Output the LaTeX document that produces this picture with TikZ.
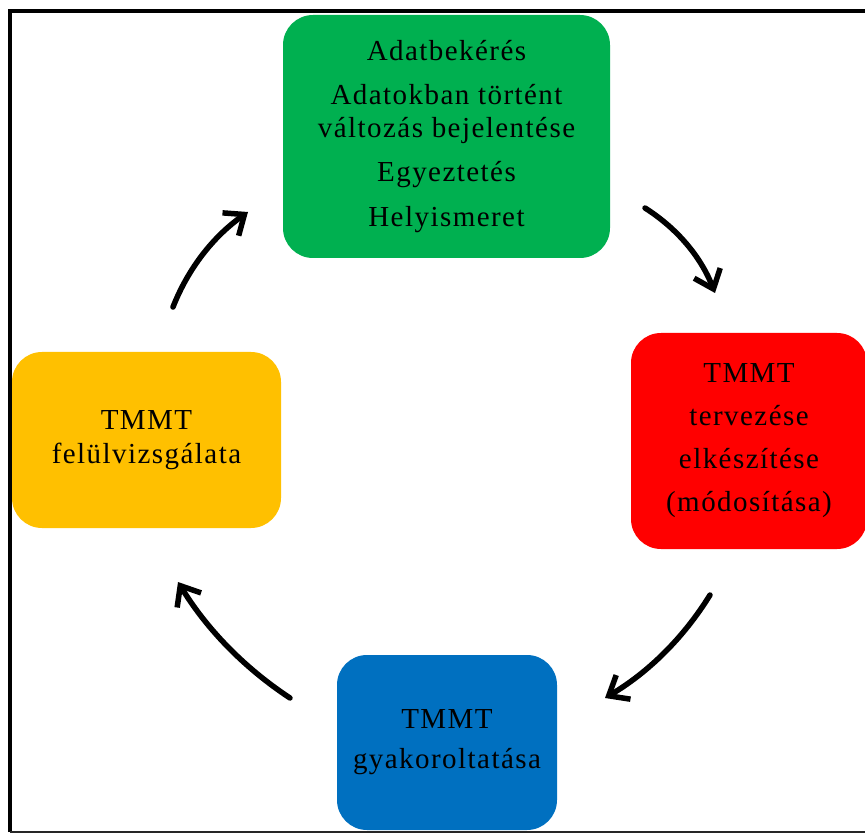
\documentclass[tikz,border=0pt]{standalone}
\usepackage{fontspec}
\setmainfont{Liberation Serif}[LetterSpace=5]
\usetikzlibrary{arrows.meta}
\definecolor{cgreen}{HTML}{00B050}
\definecolor{cred}{HTML}{FF0000}
\definecolor{cyellow}{HTML}{FFC000}
\definecolor{cblue}{HTML}{0070C0}
\tikzset{
  stagebox/.style={rounded corners=30pt, inner sep=0pt, align=center, text=black,
    font=\fontsize{29}{33}\selectfont},
  cyclearrow/.style={line width=5.5pt, line cap=round,
    -{Straight Barb[length=17pt,width=28pt,line width=5.5pt]}}
}
\begin{document}
\begin{tikzpicture}[x=1pt,y=-1pt]
\useasboundingbox (0,0) rectangle (865,834);
% frame
\draw[line width=4pt] (10,832) -- (10,11) -- (870,11);
\draw[line width=2pt, black!85] (10,832) -- (870,832);
% boxes
\node[stagebox, fill=cgreen, minimum width=327pt, minimum height=243pt] (green) at (446.5,136.5)
  {Adatbekérés\\[11pt]Adatokban történt\\változás bejelentése\\[11pt]Egyeztetés\\[12pt]Helyismeret};
\node[stagebox, fill=cred, minimum width=236pt, minimum height=216pt] (red) at (749,441)
  {TMMT\\[10pt]tervezése\\[10pt]elkészítése\\[10pt](módosítása)};
\node[stagebox, fill=cyellow, minimum width=269pt, minimum height=176pt] (yellow) at (146.5,440)
  {TMMT\\[1pt]felülvizsgálata};
\node[stagebox, fill=cblue, minimum width=220pt, minimum height=175pt] (blue) at (447,742.5)
  {TMMT\\[7pt]gyakoroltatása};
% arrow end points
\coordinate (a1s) at (173,307); \coordinate (a1e) at (248,212);
\coordinate (a2s) at (645,208); \coordinate (a2e) at (715,293);
\coordinate (a3s) at (710,595); \coordinate (a3e) at (605,698);
\coordinate (a4s) at (290,698); \coordinate (a4e) at (178,582);
\draw[cyclearrow] (a1s) .. controls (188.3,268.2) and (213.3,236.5) .. (a1e);
\draw[cyclearrow] (a2s) .. controls (677.6,228.7) and (700.9,257.1) .. (a2e);
\draw[cyclearrow] (a3s) .. controls (683.4,638) and (648.4,672.3) .. (a3e);
\draw[cyclearrow] (a4s) .. controls (244,667.7) and (206.7,629) .. (a4e);
\end{tikzpicture}
\end{document}
